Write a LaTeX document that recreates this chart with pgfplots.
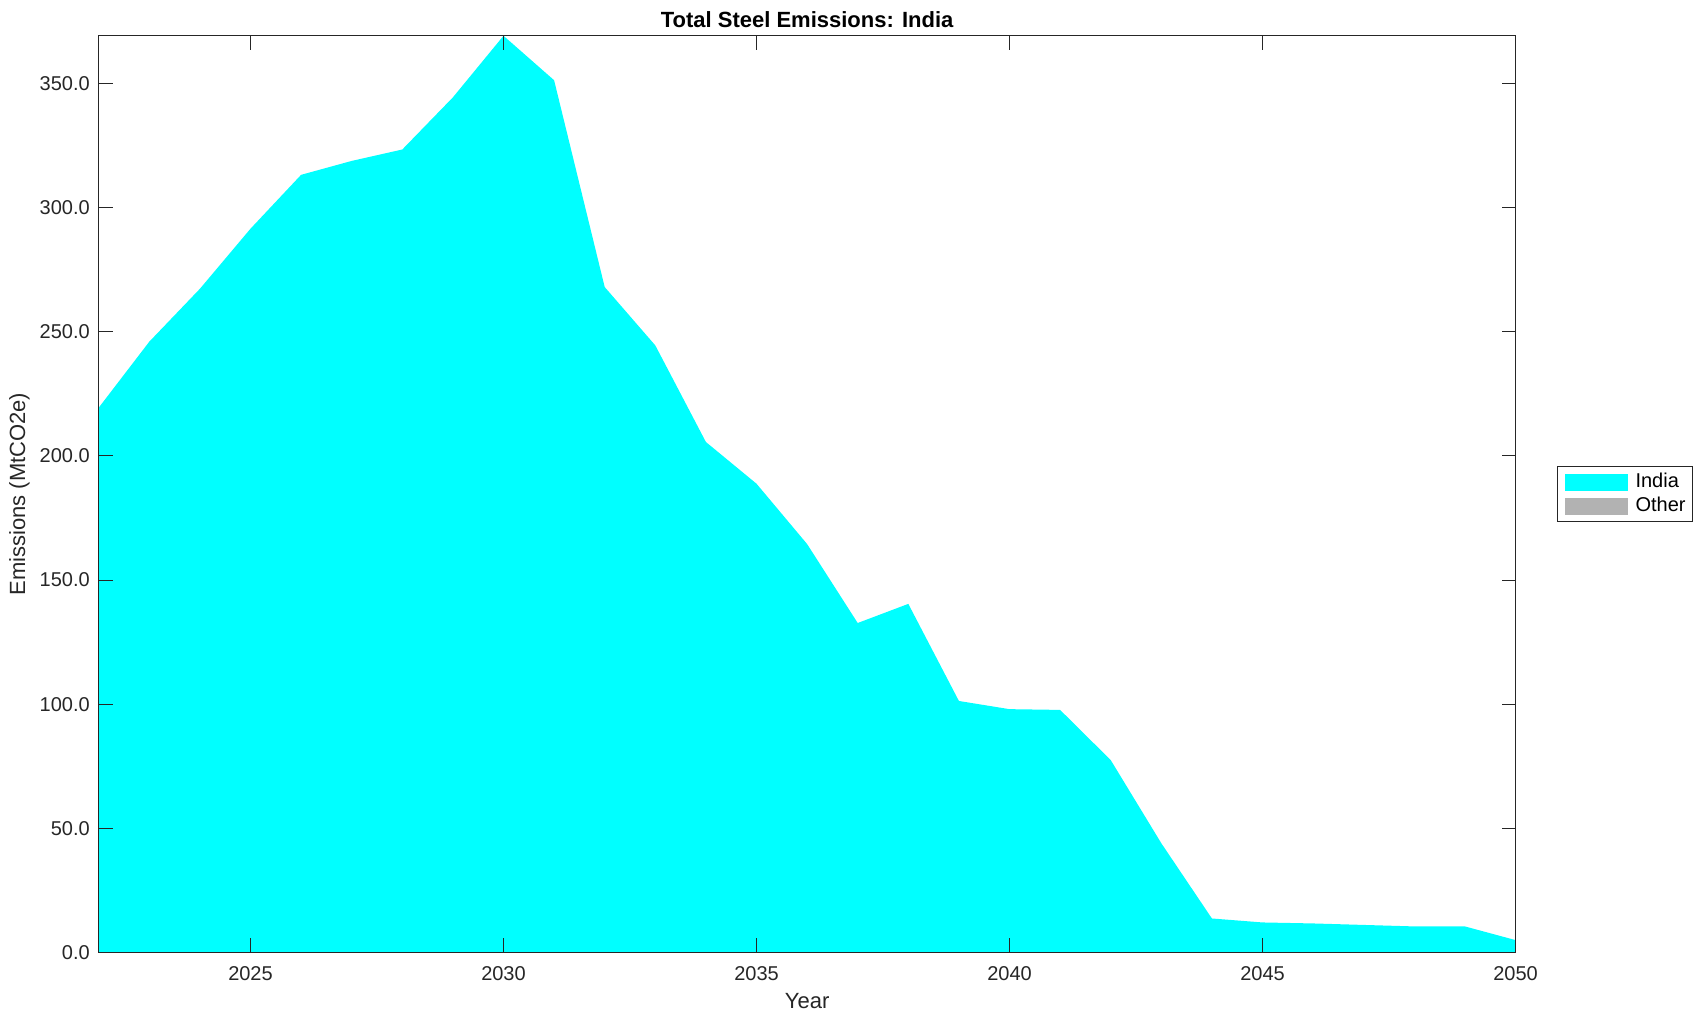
\documentclass[border=0pt]{standalone}
\usepackage{fontspec}
\setmainfont{Liberation Sans}
\usepackage{pgfplots}
\pgfplotsset{compat=1.18}
\definecolor{axgray}{gray}{0.15}
\definecolor{othergray}{gray}{0.7}
\definecolor{mcyan}{RGB}{0,255,255}
\begin{document}
\begin{tikzpicture}
\path[use as bounding box] (-49.35pt,-34.25pt) rectangle (801.15pt,476.25pt);
\begin{axis}[
  at={(0,0)}, anchor=south west,
  scale only axis,
  width=708.4pt, height=458.35pt,
  xmin=2022, xmax=2050, ymin=0, ymax=369.2,
  xtick={2025,2030,2035,2040,2045,2050},
  ytick={0,50,100,150,200,250,300,350},
  tick pos=both, tick align=inside,
  major tick length=7pt,
  axis line style={axgray, line width=0.5pt},
  every tick/.style={axgray, line width=0.5pt},
  axis on top,
  /pgf/number format/assume math mode=true,
  x tick label style={/pgf/number format/set thousands separator={}, anchor=base, yshift=-14.25pt},
  y tick label style={/pgf/number format/fixed, /pgf/number format/fixed zerofill, /pgf/number format/precision=1, anchor=east, inner sep=0pt, xshift=-4.3pt},
  tick label style={font=\fontsize{10}{12}\selectfont, text=axgray},
  title={Total Steel Emissions: India},
  every axis title/.style={at={(rel axis cs:0.5,1)}, anchor=base, yshift=4.2pt, font=\fontsize{11}{13}\selectfont\bfseries},
  xlabel={Year},
  every axis x label/.style={at={(rel axis cs:0.5,0)}, anchor=base, yshift=-28.25pt, font=\fontsize{11}{13}\selectfont, text=axgray},
  ylabel={Emissions (MtCO2e)},
  every axis y label/.style={at={(rel axis cs:0,0.5)}, rotate=90, anchor=center, yshift=39.6pt, font=\fontsize{11}{13}\selectfont, text=axgray},
  legend style={at={(rel axis cs:1,0.5)}, anchor=west, xshift=20.75pt,
    draw=axgray, line width=0.5pt, fill=white,
    font=\fontsize{10}{12}\selectfont,
    inner xsep=3.6pt, inner ysep=3.3pt,
    nodes={inner sep=0pt}, row sep=3.2pt, column sep=3.7pt},
  legend cell align=left,
  legend image code/.code={\fill[#1] (0pt,-4.25pt) rectangle (31.7pt,4.25pt);},
]
\addplot[fill=mcyan, draw=none] coordinates {
(2022,219.4) (2023,246.0) (2024,267.3) (2025,291.5) (2026,313.2)
(2027,318.8) (2028,323.4) (2029,344.4) (2030,369.2) (2031,351.3)
(2032,268.0) (2033,244.5) (2034,205.6) (2035,188.8) (2036,164.5)
(2037,132.7) (2038,140.4) (2039,101.3) (2040,98.0) (2041,97.7)
(2042,77.5) (2043,44.0) (2044,13.7) (2045,12.1) (2046,11.7)
(2047,11.1) (2048,10.5) (2049,10.5) (2050,5.0)
} \closedcycle;
\addlegendentry{India}
\addlegendimage{fill=othergray, draw=none}
\addlegendentry{Other}
\end{axis}
\end{tikzpicture}
\end{document}
